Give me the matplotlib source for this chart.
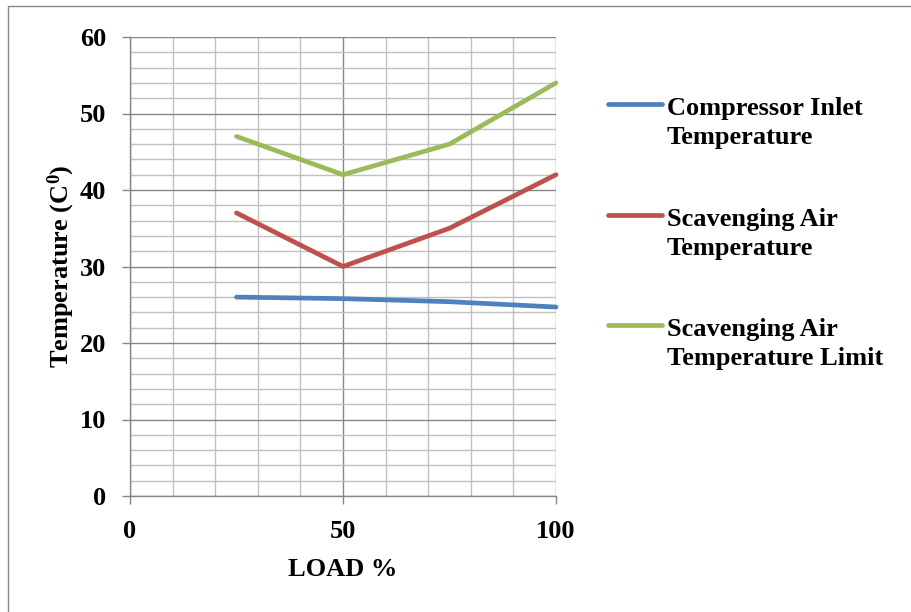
import matplotlib
matplotlib.use("Agg")
import matplotlib.pyplot as plt
from matplotlib.lines import Line2D
from matplotlib.ticker import MultipleLocator

plt.rcParams['font.family'] = ['Liberation Serif', 'DejaVu Serif']
plt.rcParams['font.weight'] = 'bold'
plt.rcParams['mathtext.fontset'] = 'custom'
plt.rcParams['mathtext.rm'] = 'Liberation Serif:bold'
plt.rcParams['mathtext.bf'] = 'Liberation Serif:bold'
plt.rcParams['mathtext.it'] = 'Liberation Serif:bold'

load = [25, 50, 75, 100]
compressor_inlet = [26.0, 25.8, 25.4, 24.7]
scavenging_air = [37, 30, 35, 42]
scavenging_limit = [47, 42, 46, 54]

series_names = ["Compressor Inlet\nTemperature",
                "Scavenging Air\nTemperature",
                "Scavenging Air\nTemperature Limit"]
series_colors = ["#4F81BD", "#C0504D", "#9BBB59"]

x_ticks = [0, 50, 100]
y_ticks = [0, 10, 20, 30, 40, 50, 60]

FS = 19

fig = plt.figure(figsize=(9.12, 6.12), dpi=100)
ax = fig.add_axes([130/912, 1-496/612, (556-130)/912, (496-37)/612])

ax.set_xlim(0, 100)
ax.set_ylim(0, 60)

# grid: light minor lines, darker majors
ax.xaxis.set_minor_locator(MultipleLocator(10))
ax.yaxis.set_minor_locator(MultipleLocator(2))
ax.set_xticks(x_ticks)
ax.set_yticks(y_ticks)
ax.grid(which='minor', color='#C0C0C0', linewidth=1.0)
ax.grid(which='major', color='#878787', linewidth=1.0)
ax.set_axisbelow(True)

for s in ['top', 'right']:
    ax.spines[s].set_visible(False)
for s in ['left', 'bottom']:
    ax.spines[s].set_color('#878787')
    ax.spines[s].set_linewidth(1.0)

ax.tick_params(which='major', direction='out', length=6, width=1.0,
               color='#878787', labelsize=FS)
ax.tick_params(axis='y', which='major', pad=11)
ax.tick_params(axis='x', which='major', pad=11)
ax.tick_params(which='minor', length=0)

for vals, col in zip([compressor_inlet, scavenging_air, scavenging_limit], series_colors):
    ax.plot(load, vals, color=col, linewidth=3.4, solid_capstyle='round',
            solid_joinstyle='round', clip_on=False)

ax.set_xlabel("LOAD %", fontsize=FS, fontweight='bold', labelpad=11)
ax.set_ylabel(r"Temperature (C$^{0}$)", fontsize=FS, fontweight='bold', labelpad=2)

# legend drawn at figure level
leg_y = [104, 215, 325]
for name, col, yp in zip(series_names, series_colors, leg_y):
    yf = 1 - yp/612
    fig.add_artist(Line2D([608/912, 662/912], [yf, yf], color=col,
                          linewidth=3.4, solid_capstyle='round',
                          transform=fig.transFigure))
    fig.text(667/912, yf + 7/612, name, fontsize=FS, fontweight='bold',
             va='top', ha='left', linespacing=1.32)

# outer chart border
fig.add_artist(Line2D([8/912, 8/912, 1.0], [0, 1-6/612, 1-6/612],
                      color='#878787', linewidth=1.0, transform=fig.transFigure))

fig.savefig("out.png", dpi=100)
